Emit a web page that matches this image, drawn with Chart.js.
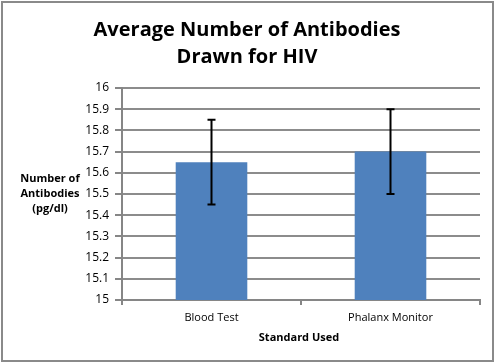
<!DOCTYPE html>
<html>
<head>
<meta charset="utf-8">
<script src="https://cdn.jsdelivr.net/npm/chart.js@4/dist/chart.umd.min.js"></script>
<style>
    body { margin: 0; background: #fff; }
    #wrap { position: relative; width: 495px; height: 363px; }
    #frame { position: absolute; left: 1px; top: 1px; width: 489px; height: 357px; border: 2px solid #8a8a8a; pointer-events: none; }
</style>
</head>
<body>
<div id="wrap">
    <canvas id="chart-antibodies" width="495" height="363"></canvas>
    <div id="frame"></div>
</div>
<script>
const categories = ['Blood Test', 'Phalanx Monitor'];
const meanValues = [15.65, 15.70];
const errorValues = [0.2, 0.2];
const yTicks = [15, 15.1, 15.2, 15.3, 15.4, 15.5, 15.6, 15.7, 15.8, 15.9, 16];

const titleLines = ['Average Number of Antibodies', 'Drawn for HIV'];
const yTitleLines = ['Number of', 'Antibodies', '(pg/dl)'];
const xTitle = 'Standard Used';

const fontFamily = '"Open Sans", "Noto Sans", sans-serif';

// error bars and the horizontal titles
const extrasPlugin = {
    id: 'extras',
    afterDatasetsDraw(chart) {
        const ctx = chart.ctx;
        const x = chart.scales.x;
        const y = chart.scales.y;
        ctx.save();
        ctx.strokeStyle = '#000';
        ctx.lineWidth = 2;
        meanValues.forEach(function (v, i) {
            const px = x.getPixelForValue(i);
            const top = y.getPixelForValue(v + errorValues[i]);
            const bottom = y.getPixelForValue(v - errorValues[i]);
            ctx.beginPath();
            ctx.moveTo(px, top);
            ctx.lineTo(px, bottom);
            ctx.moveTo(px - 4, top);
            ctx.lineTo(px + 4, top);
            ctx.moveTo(px - 4, bottom);
            ctx.lineTo(px + 4, bottom);
            ctx.stroke();
        });
        ctx.restore();
    },
    afterDraw(chart) {
        const ctx = chart.ctx;
        ctx.save();
        ctx.fillStyle = '#000';
        ctx.textAlign = 'center';
        ctx.textBaseline = 'middle';

        ctx.font = 'bold 20px ' + fontFamily;
        ctx.fillText(titleLines[0], 247, 30);
        ctx.fillText(titleLines[1], 247, 57);

        ctx.font = 'bold 11px ' + fontFamily;
        yTitleLines.forEach(function (line, i) {
            ctx.fillText(line, 50, 179 + i * 15);
        });

        ctx.font = 'bold 11px ' + fontFamily;
        ctx.fillText(xTitle, 299, 338);
        ctx.restore();
    }
};

new Chart(document.getElementById('chart-antibodies'), {
    type: 'bar',
    data: {
        labels: categories,
        datasets: [{
            data: meanValues,
            backgroundColor: '#4f81bd',
            borderWidth: 0,
            categoryPercentage: 0.8,
            barPercentage: 0.5
        }]
    },
    options: {
        responsive: false,
        animation: false,
        events: [],
        layout: {
            padding: { top: 88, right: 15, left: 0, bottom: 0 }
        },
        scales: {
            x: {
                afterFit(scale) { scale.height = 63; },
                grid: {
                    offset: true,
                    drawOnChartArea: false,
                    drawTicks: true,
                    tickLength: 5,
                    tickColor: '#868686',
                    lineWidth: 2
                },
                border: { color: '#868686', width: 2 },
                ticks: {
                    color: '#000',
                    padding: 6,
                    font: { family: fontFamily, size: 11 }
                }
            },
            y: {
                min: 15,
                max: 16,
                afterFit(scale) { scale.width = 122; },
                afterBuildTicks(scale) {
                    scale.ticks = yTicks.map(v => ({ value: v }));
                },
                grid: {
                    color: '#8c8c8c',
                    lineWidth: 2,
                    drawTicks: true,
                    tickLength: 7,
                    tickColor: '#868686'
                },
                border: { color: '#868686', width: 2 },
                ticks: {
                    color: '#000',
                    padding: 6,
                    font: { family: fontFamily, size: 12 },
                    callback: function (value) { return String(Math.round(value * 10) / 10); }
                }
            }
        },
        plugins: {
            legend: { display: false },
            title: { display: false },
            tooltip: { enabled: false }
        }
    },
    plugins: [extrasPlugin]
});
</script>
</body>
</html>
